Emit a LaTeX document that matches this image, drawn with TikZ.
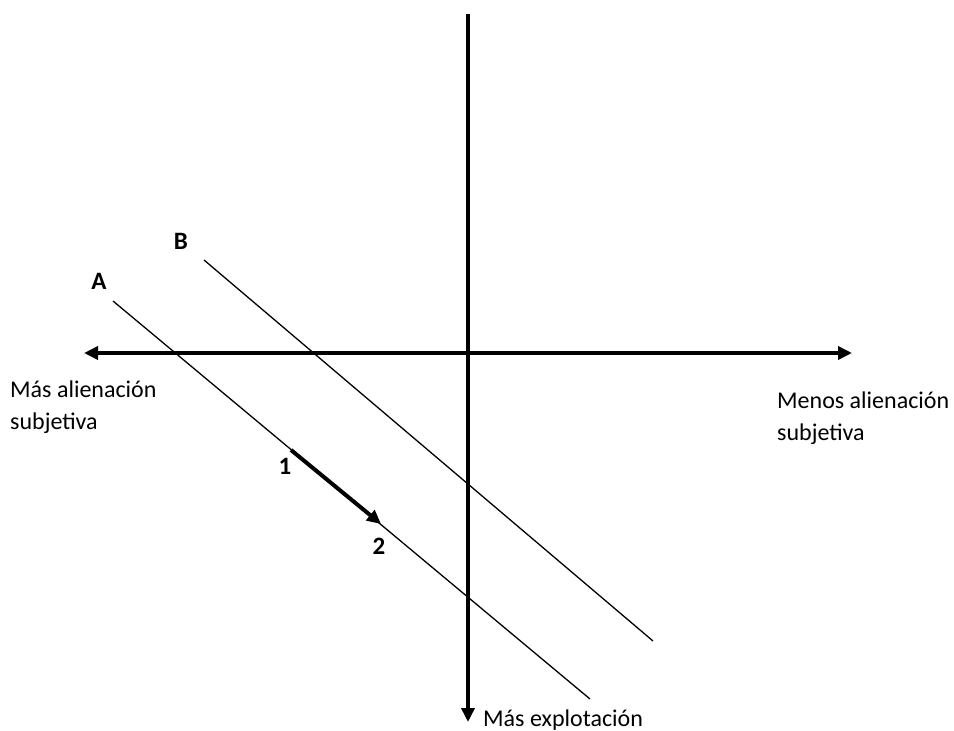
\documentclass[tikz,border=0pt]{standalone}
\usepackage{fontspec}
\setmainfont{Carlito}
\usetikzlibrary{arrows.meta}
\begin{document}
\begin{tikzpicture}[x=1pt,y=-1pt,
  axis/.style={line width=4pt,-{Triangle[length=14pt,width=13pt]}},
  thin line/.style={line width=1.3pt},
  lbl/.style={font=\fontsize{25}{28}\selectfont\bfseries,inner sep=0pt},
  txt/.style={font=\fontsize{24}{33}\selectfont,inner sep=0pt,anchor=base west}]
\useasboundingbox (0,0) rectangle (954,731);
\coordinate (vtop) at (468,14);
\coordinate (vbot) at (468,722);
\coordinate (hmid) at (470,353);
\coordinate (hl) at (84,353);
\coordinate (hr) at (852,353);
\draw[axis] (vtop) -- (vbot);
\draw[axis] (hmid) -- (hl);
\draw[axis] (hmid) -- (hr);
\coordinate (a1) at (113,301);
\coordinate (a2) at (590,699);
\coordinate (b1) at (204,260);
\coordinate (b2) at (653,641);
\draw[thin line] (a1) -- (a2);
\draw[thin line] (b1) -- (b2);
\coordinate (p1) at (291,450);
\coordinate (p2) at (381,524);
\draw[line width=4pt,-{Triangle[length=14pt,width=13pt]}] (p1) -- (p2);
\node[lbl] (A) at (99,281) {A};
\node[lbl] (B) at (181,241) {B};
\node[lbl] (n1) at (285,466) {1};
\node[lbl] (n2) at (379,546) {2};
\node[txt] (left1) at (10,397) {Más alienación};
\node[txt] (left2) at (10,429) {subjetiva};
\node[txt] (right1) at (777,408) {Menos alienación};
\node[txt] (right2) at (777,440) {subjetiva};
\node[txt] (bottom) at (483,726) {Más explotación};
\end{tikzpicture}
\end{document}
